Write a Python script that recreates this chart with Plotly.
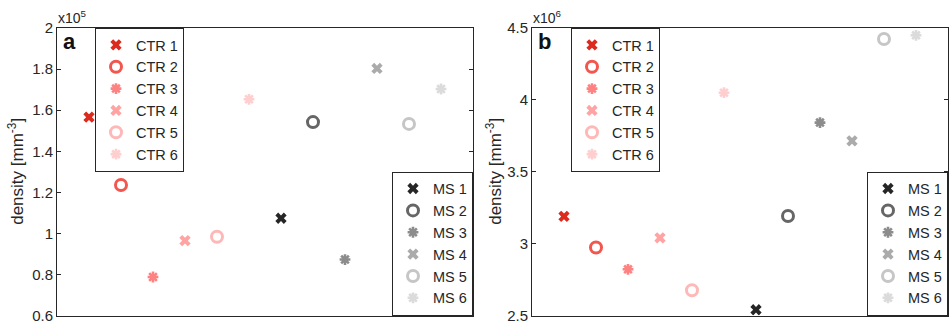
import plotly.graph_objects as go

# Sample groups and per-sample densities
ctr_names = ["CTR 1", "CTR 2", "CTR 3", "CTR 4", "CTR 5", "CTR 6"]
ms_names = ["MS 1", "MS 2", "MS 3", "MS 4", "MS 5", "MS 6"]

# panel a, units of 1e5 mm^-3
ctr_a = [1.566, 1.236, 0.788, 0.965, 0.984, 1.653]
ms_a = [1.074, 1.542, 0.873, 1.803, 1.533, 1.703]
# panel b, units of 1e6 mm^-3
ctr_b = [3.19, 2.974, 2.822, 3.041, 2.676, 4.05]
ms_b = [2.541, 3.193, 3.842, 3.715, 4.423, 4.449]

ticks_a = [0.6, 0.8, 1.0, 1.2, 1.4, 1.6, 1.8, 2.0]
ticktext_a = ["0.6", "0.8", "1", "1.2", "1.4", "1.6", "1.8", "2"]
ticks_b = [2.5, 3.0, 3.5, 4.0, 4.5]
ticktext_b = ["2.5", "3", "3.5", "4", "4.5"]

ctr_colors = ["#dc2a1e", "#f2564e", "#ff8282", "#ffa3a3", "#ffb8b8", "#ffcfcf"]
ms_colors = ["#262626", "#666666", "#8c8c8c", "#ababab", "#c6c6c6", "#dbdbdb"]
symbols = ["x", "circle-open", "asterisk-open", "x", "circle-open", "asterisk-open"]

W, H = 949, 335
INK = "#262626"
FONT = "Liberation Sans, Arial, sans-serif"


def marker_style(sym, color):
    if sym == "x":
        return dict(symbol="x", size=10, color=color, line=dict(width=0))
    if sym == "circle-open":
        return dict(symbol="circle-open", size=11, color=color, line=dict(width=3, color=color))
    return dict(symbol="asterisk-open", size=9, color=color, line=dict(width=2.6, color=color))


fig = go.Figure()


def add_group(names, values, colors, offset, xa, ya, legend):
    for i, (n, v, c) in enumerate(zip(names, values, colors)):
        fig.add_trace(go.Scatter(
            x=[offset + i + 1], y=[v], mode="markers", name=n,
            marker=marker_style(symbols[i], c),
            xaxis=xa, yaxis=ya, legend=legend,
        ))


add_group(ctr_names, ctr_a, ctr_colors, 0, "x", "y", "legend")
add_group(ms_names, ms_a, ms_colors, 6, "x", "y", "legend2")
add_group(ctr_names, ctr_b, ctr_colors, 0, "x2", "y2", "legend3")
add_group(ms_names, ms_b, ms_colors, 6, "x2", "y2", "legend4")

ytop = 1 - 20 / H
ybot = 1 - 323 / H
dom_a = [57 / W, 473 / W]
dom_b = [532 / W, 948 / W]

xcommon = dict(range=[0, 13], showticklabels=False, ticks="", showgrid=False,
               zeroline=False, showline=True, mirror=True, linecolor=INK, linewidth=1)
ycommon = dict(showgrid=False, zeroline=False, showline=True, mirror="ticks",
               linecolor=INK, linewidth=1, ticks="inside", ticklen=4, tickcolor=INK,
               tickfont=dict(family=FONT, size=15, color=INK))

legend_common = dict(bgcolor="white", bordercolor=INK, borderwidth=1,
                     font=dict(family=FONT, size=14.5, color=INK),
                     tracegroupgap=0, itemsizing="trace")

fig.update_layout(
    width=W, height=H,
    margin=dict(l=0, r=0, t=0, b=0),
    paper_bgcolor="white", plot_bgcolor="white",
    xaxis=dict(domain=dom_a, anchor="y", **xcommon),
    yaxis=dict(domain=[ybot, ytop], anchor="x", range=[0.6, 2.0],
               tickvals=ticks_a, ticktext=ticktext_a, **ycommon),
    xaxis2=dict(domain=dom_b, anchor="y2", **xcommon),
    yaxis2=dict(domain=[ybot, ytop], anchor="x2", range=[2.5, 4.5],
                tickvals=ticks_b, ticktext=ticktext_b, **ycommon),
    legend=dict(x=95 / W, y=ytop, xanchor="left", yanchor="top", **legend_common),
    legend2=dict(x=dom_a[1], y=ybot, xanchor="right", yanchor="bottom", **legend_common),
    legend3=dict(x=571 / W, y=ytop, xanchor="left", yanchor="top", **legend_common),
    legend4=dict(x=dom_b[1], y=ybot, xanchor="right", yanchor="bottom", **legend_common),
    showlegend=True,
)

ylabel = "density [mm<sup>-3</sup>]"
for xpos, letter, expo, x0 in [(16, "a", "5", dom_a[0]), (494, "b", "6", dom_b[0])]:
    fig.add_annotation(x=xpos / W, y=(ytop + ybot) / 2, xref="paper", yref="paper",
                       text=ylabel, textangle=-90, showarrow=False,
                       font=dict(family=FONT, size=17, color=INK),
                       xanchor="center", yanchor="middle")
    fig.add_annotation(x=x0 + 4 / W, y=1 - 18.5 / H, xref="paper", yref="paper",
                       text="<b>%s</b>" % letter, showarrow=False,
                       font=dict(family=FONT, size=22, color="#111111"),
                       xanchor="left", yanchor="top")
    fig.add_annotation(x=x0 - 1 / W, y=ytop, xref="paper", yref="paper",
                       text="x10<sup>%s</sup>" % expo, showarrow=False,
                       font=dict(family=FONT, size=14, color=INK),
                       xanchor="left", yanchor="bottom")

fig.write_html("out.html")
